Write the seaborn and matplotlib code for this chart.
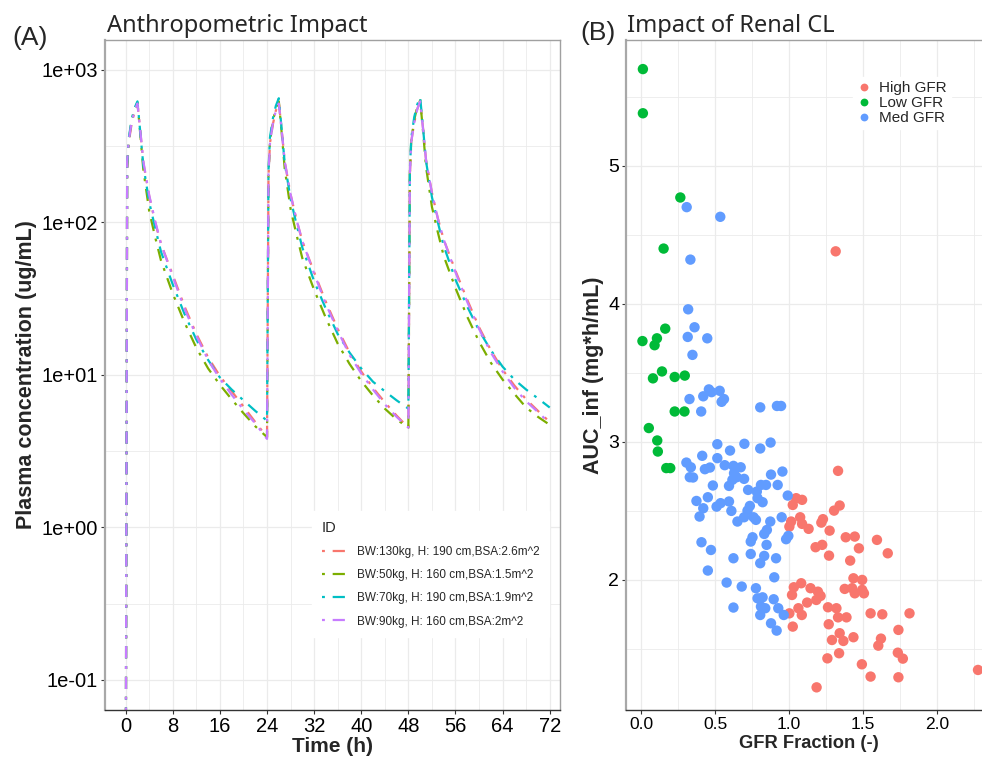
import matplotlib
matplotlib.use("Agg")
import matplotlib.pyplot as plt
import seaborn as sns
import pandas as pd
from matplotlib.ticker import FixedLocator

# ---- panel A : simulated PK profiles (3 daily doses) ----
time_h = [0, 0.25, 0.5, 1, 1.5, 2, 2.5, 3, 4, 5, 6, 8, 10, 12, 14, 16, 18, 20, 22,
          24, 24.25, 24.5, 25, 25.5, 26, 26.5, 27, 28, 29, 30, 32, 34, 36, 38, 40, 42, 44, 46,
          48, 48.25, 48.5, 49, 49.5, 50, 50.5, 51, 52, 53, 54, 56, 58, 60, 62, 64, 66, 68, 70, 72]

conc_bw130 = [0.01, 220, 330, 440, 530, 600, 390, 245, 148, 100, 72, 45, 28, 18.5, 13, 9.8, 7.8, 6.2, 4.9,
              3.9, 200, 330, 440, 540, 610, 400, 250, 152, 104, 75, 47, 30, 20, 14, 10.5, 8.2, 6.6, 5.4,
              4.5, 200, 340, 450, 550, 620, 410, 255, 156, 106, 77, 48, 31, 20.5, 14.5, 10.8, 8.5, 6.9, 5.8, 4.9]
conc_bw50 = [0.01, 230, 340, 460, 550, 610, 370, 220, 118, 80, 56, 34, 22, 15, 11, 8.6, 6.9, 5.6, 4.6,
             3.9, 210, 340, 460, 560, 620, 380, 225, 122, 83, 58, 36, 23.5, 16, 11.8, 9.1, 7.3, 6.0, 5.1,
             4.5, 210, 350, 470, 570, 630, 390, 230, 126, 86, 60, 37, 24, 16.5, 12, 9.3, 7.5, 6.1, 5.3, 4.7]
conc_bw70 = [0.01, 240, 350, 470, 560, 620, 380, 235, 135, 92, 64, 39, 25, 17, 12.5, 9.6, 8.0, 6.8, 5.8,
             5.0, 220, 360, 480, 580, 650, 400, 245, 142, 97, 68, 41, 27, 18.5, 14, 11, 9.0, 7.8, 6.8,
             6.0, 220, 360, 490, 590, 660, 410, 250, 146, 100, 70, 42, 28, 19.5, 14.5, 11.3, 9.3, 8.0, 7.0, 6.1]
conc_bw90 = [0.01, 250, 340, 450, 540, 600, 390, 250, 150, 102, 72, 44, 27, 18, 12.5, 9.4, 7.4, 5.9, 4.8,
             3.8, 210, 330, 450, 540, 600, 395, 250, 152, 104, 75, 46, 29, 19.5, 13.5, 10.2, 8.0, 6.4, 5.3,
             4.5, 210, 340, 450, 550, 620, 405, 255, 155, 106, 77, 47, 30, 20, 14, 10.5, 8.2, 6.7, 5.7, 4.8]

id_labels = ["BW:130kg, H: 190 cm,BSA:2.6m^2",
             "BW:50kg, H: 160 cm,BSA:1.5m^2",
             "BW:70kg, H: 190 cm,BSA:1.9m^2",
             "BW:90kg, H: 160 cm,BSA:2m^2"]
id_colors = ["#F8766D", "#7CAE00", "#00BFC4", "#C77CFF"]

# ---- panel B : AUC vs GFR fraction ----
high_x = [1.315, 1.331,
          1.048, 1.088, 1.025, 1.342, 1.304, 1.075, 1.229, 1.218, 1.014, 1.088, 1.002, 1.132, 1.274,
          1.383, 1.444, 1.594, 1.224, 1.179, 1.472, 1.270, 1.667, 1.413, 1.435, 1.494, 1.032, 1.082,
          1.145, 1.195, 1.376, 1.426, 1.494, 1.020, 1.213, 1.184, 1.444, 1.506, 1.122, 1.002, 1.063,
          1.086, 1.263, 1.320, 1.331, 1.388, 1.551, 1.630, 1.814, 1.025, 1.268, 1.739, 1.342, 1.435,
          1.290, 1.367, 1.621, 1.603, 1.735, 1.769, 1.338, 1.259, 1.492, 1.551, 1.739, 1.186, 2.277]
high_y = [4.38, 2.79,
          2.592, 2.580, 2.543, 2.539, 2.502, 2.454, 2.440, 2.415, 2.423, 2.406, 2.386, 2.370, 2.357,
          2.309, 2.314, 2.290, 2.254, 2.237, 2.229, 2.176, 2.193, 2.140, 2.012, 2.000, 1.947, 1.976,
          1.940, 1.915, 1.935, 1.940, 1.928, 1.891, 1.884, 1.855, 1.903, 1.903, 1.836, 1.758, 1.795,
          1.746, 1.802, 1.795, 1.729, 1.729, 1.758, 1.751, 1.758, 1.662, 1.679, 1.638, 1.614, 1.585,
          1.565, 1.558, 1.575, 1.524, 1.473, 1.430, 1.469, 1.432, 1.389, 1.300, 1.295, 1.222, 1.348]

low_x = [0.012, 0.012, 0.265, 0.152, 0.163, 0.009, 0.107, 0.091, 0.141, 0.080,
         0.227, 0.295, 0.227, 0.293, 0.052, 0.109, 0.113, 0.170, 0.197]
low_y = [5.70, 5.38, 4.77, 4.40, 3.82, 3.73, 3.75, 3.70, 3.51, 3.46,
         3.47, 3.48, 3.22, 3.22, 3.10, 3.01, 2.93, 2.81, 2.81]

med_x = [0.308, 0.535, 0.333, 0.318, 0.361, 0.315, 0.447, 0.347, 0.458, 0.476, 0.531, 0.420, 0.327,
         0.560, 0.544, 0.406, 0.805, 0.918, 0.946,
         0.515, 0.601, 0.698, 0.805, 0.875, 0.413, 0.515, 0.306, 0.336, 0.565, 0.624, 0.673, 0.431,
         0.465, 0.329, 0.351, 0.628, 0.646, 0.696, 0.617, 0.878, 0.955, 0.485, 0.594, 0.723, 0.810,
         0.844, 0.782, 0.923, 0.991, 0.374, 0.451, 0.510, 0.537, 0.594, 0.787, 0.821, 0.420, 0.610,
         0.735, 0.719, 0.395, 0.651, 0.696, 0.760, 0.776, 0.950, 0.873, 0.850, 0.753, 0.832, 0.741,
         0.848, 0.995, 0.980, 0.408, 0.472, 0.741, 0.832, 0.912, 0.624, 0.805, 0.451, 0.900, 0.578,
         0.680, 0.776, 0.787, 0.821, 0.896, 0.810, 0.839, 0.927, 0.964, 0.805, 0.624, 0.878, 0.916]
med_y = [4.70, 4.63, 4.32, 3.96, 3.83, 3.76, 3.75, 3.63, 3.38, 3.36, 3.37, 3.33, 3.31,
         3.31, 3.29, 3.22, 3.25, 3.26, 3.26,
         2.983, 2.937, 2.986, 2.952, 2.995, 2.899, 2.882, 2.850, 2.816, 2.831, 2.826, 2.816, 2.802,
         2.814, 2.744, 2.742, 2.773, 2.744, 2.732, 2.725, 2.763, 2.785, 2.684, 2.681, 2.652, 2.688,
         2.688, 2.640, 2.688, 2.611, 2.572, 2.599, 2.531, 2.556, 2.568, 2.592, 2.563, 2.519, 2.500,
         2.536, 2.502, 2.459, 2.423, 2.454, 2.454, 2.435, 2.454, 2.423, 2.362, 2.309, 2.333, 2.278,
         2.254, 2.319, 2.295, 2.273, 2.217, 2.188, 2.174, 2.157, 2.157, 2.121, 2.068, 2.019, 1.981,
         1.952, 1.940, 1.867, 1.874, 1.860, 1.807, 1.795, 1.795, 1.746, 1.746, 1.800, 1.686, 1.633]

gfr_groups = ["High GFR", "Low GFR", "Med GFR"]
gfr_colors = ["#F8766D", "#00BA38", "#619CFF"]

sns.set_theme(style="white")
plt.rcParams['font.family'] = ['Liberation Sans', 'DejaVu Sans']

grid_c = "#EBEBEB"


def style_axes(ax):
    ax.set_axisbelow(True)
    ax.grid(True, which="major", color=grid_c, lw=0.9)
    ax.grid(True, which="minor", color=grid_c, lw=0.6)
    ax.spines["left"].set_color("#A8A8A8")
    ax.spines["left"].set_linewidth(1.6)
    ax.spines["bottom"].set_color("#333333")
    ax.spines["bottom"].set_linewidth(1.0)
    for s in ["top", "right"]:
        ax.spines[s].set_color("#A0A0A0")
        ax.spines[s].set_linewidth(1.0)
    ax.tick_params(which="major", direction="out", length=3, width=0.8, color="#333333",
                   labelcolor="black", pad=2, left=True, bottom=True)
    ax.tick_params(which="minor", length=0)


fig = plt.figure(figsize=(9.82, 7.6), dpi=100)
axA = fig.add_axes([0.107, 0.0658, 0.463, 0.882])
axB = fig.add_axes([0.6375, 0.0658, 0.372, 0.882])

# panel A
rows = []
for lab, conc in zip(id_labels, [conc_bw130, conc_bw50, conc_bw70, conc_bw90]):
    for t, c in zip(time_h, conc):
        rows.append((t, c, lab))
pk = pd.DataFrame(rows, columns=["time", "conc", "ID"])

sns.lineplot(data=pk, x="time", y="conc", hue="ID", style="ID",
             hue_order=id_labels, style_order=id_labels, palette=id_colors,
             dashes=[(1.3, 3.5, 5.5, 3.5)] * 4, linewidth=1.6,
             estimator=None, sort=False, ax=axA)
axA.set_yscale("log")
axA.set_xlim(-3.5, 73.7)
axA.set_ylim(0.0635, 1573)
axA.xaxis.set_major_locator(FixedLocator([0, 8, 16, 24, 32, 40, 48, 56, 64, 72]))
axA.xaxis.set_minor_locator(FixedLocator([4, 12, 20, 28, 36, 44, 52, 60, 68]))
axA.yaxis.set_major_locator(FixedLocator([0.1, 1, 10, 100, 1000]))
axA.yaxis.set_minor_locator(FixedLocator([10 ** -0.5, 10 ** 0.5, 10 ** 1.5, 10 ** 2.5]))
axA.set_yticklabels(["1e-01", "1e+00", "1e+01", "1e+02", "1e+03"])
style_axes(axA)
axA.tick_params(labelsize=14.5)
axA.set_xlabel("Time (h)", fontsize=15, fontweight="bold", labelpad=1)
axA.set_ylabel("Plasma concentration (ug/mL)", fontsize=15.5, fontweight="bold", labelpad=3)

handles, labels = axA.get_legend_handles_labels()
axA.legend(handles, labels, title="ID", loc="lower right", bbox_to_anchor=(0.99, 0.10),
           fontsize=8.5, title_fontsize=10.5, frameon=True, fancybox=False,
           facecolor="white", edgecolor="white", framealpha=1, handlelength=2.2,
           handletextpad=0.8, labelspacing=0.95, borderpad=0.8, alignment="left")

# panel B
auc = pd.DataFrame({
    "gfr": high_x + low_x + med_x,
    "auc": high_y + low_y + med_y,
    "grp": ["High GFR"] * len(high_x) + ["Low GFR"] * len(low_x) + ["Med GFR"] * len(med_x),
})
sns.scatterplot(data=auc, x="gfr", y="auc", hue="grp", hue_order=gfr_groups,
                palette=gfr_colors, s=56, linewidth=0, ax=axB)
axB.set_xlim(-0.102, 2.367)
axB.set_ylim(1.058, 5.913)
axB.xaxis.set_major_locator(FixedLocator([0, 0.5, 1.0, 1.5, 2.0]))
axB.xaxis.set_minor_locator(FixedLocator([0.25, 0.75, 1.25, 1.75, 2.25]))
axB.yaxis.set_major_locator(FixedLocator([2, 3, 4, 5]))
axB.yaxis.set_minor_locator(FixedLocator([1.5, 2.5, 3.5, 4.5, 5.5]))
axB.set_xticklabels(["0.0", "0.5", "1.0", "1.5", "2.0"])
style_axes(axB)
axB.spines["right"].set_visible(False)
axB.tick_params(axis="x", labelsize=12.5)
axB.tick_params(axis="y", labelsize=14)
axB.set_xlabel("GFR Fraction (-)", fontsize=13.2, fontweight="bold", labelpad=2)
axB.set_ylabel("AUC_inf (mg*h/mL)", fontsize=15.5, fontweight="bold", labelpad=3)
axB.legend(loc="upper left", bbox_to_anchor=(0.6, 0.956), fontsize=11, frameon=True,
           fancybox=False, facecolor="white", edgecolor="white", framealpha=1,
           handlelength=0.8, handletextpad=0.6, labelspacing=0.05, markerscale=0.75,
           borderpad=0.3)

# titles and panel tags
fig.text(107 / 982, 1 - 32 / 760, "Anthropometric Impact", fontsize=17,
         family=["Noto Sans", "DejaVu Sans"], va="baseline", ha="left")
fig.text(627 / 982, 1 - 32 / 760, "Impact of Renal CL", fontsize=17,
         family=["Noto Sans", "DejaVu Sans"], va="baseline", ha="left")
fig.text(12 / 982, 1 - 45 / 760, "(A)", fontsize=19, va="baseline", ha="left")
fig.text(580 / 982, 1 - 40 / 760, "(B)", fontsize=19, va="baseline", ha="left")

fig.savefig("out.png", dpi=100)
